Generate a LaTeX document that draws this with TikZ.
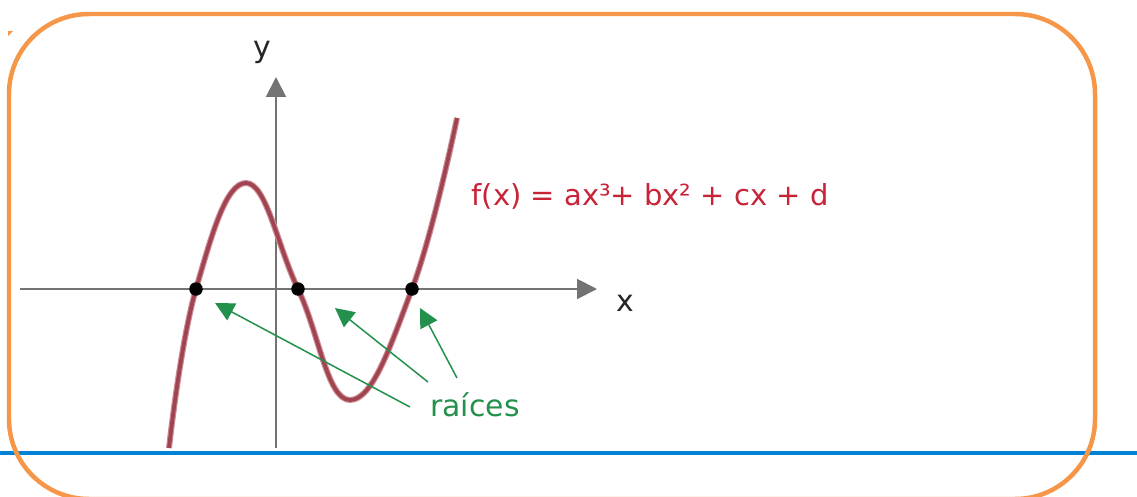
\documentclass[tikz,border=0pt]{standalone}
\usepackage{fontspec}
\setmainfont{DejaVu Sans}
\usepackage{tikz}
\usetikzlibrary{positioning,arrows.meta}
\definecolor{frameorange}{RGB}{246,150,72}
\definecolor{lineblue}{RGB}{0,130,214}
\definecolor{axisgray}{RGB}{115,115,115}
\definecolor{curvered}{RGB}{160,68,80}
\definecolor{curvehalo}{RGB}{205,140,150}
\definecolor{eqred}{RGB}{200,35,55}
\definecolor{rootgreen}{RGB}{35,145,75}

\begin{document}
\begin{tikzpicture}[
    x=0.02cm, y=-0.02cm,
    frame/.style={draw=frameorange, line width=0.09cm, rounded corners=1.6cm},
    axis/.style={draw=axisgray, line width=0.04cm, -{Triangle[length=4mm, width=4mm]}},
    curve/.style={draw=curvered, line width=0.075cm, line join=round,
      preaction={draw=curvehalo, line width=0.12cm}},
    root/.style={circle, fill=black, inner sep=0pt, minimum size=0.27cm},
    garr/.style={draw=rootgreen, line width=0.03cm, -{Triangle[length=3.8mm, width=3.8mm]}},
    lbl/.style={font=\fontsize{17}{20}\selectfont, text=black!85, inner sep=0pt}
]
\useasboundingbox (0,0) rectangle (1137,497);

\draw[lineblue, line width=0.08cm] (0,453) -- (1137,453);
\draw[frame] (9,14) rectangle (1095,499);
\fill[frameorange] (8,31) -- (13,31) -- (8,36) -- cycle;

\coordinate (xl) at (20,289);
\coordinate (xr) at (597,289);
\coordinate (yb) at (276,448);
\coordinate (yt) at (276,77);
\draw[axis] (xl) -- (xr);
\draw[axis] (yb) -- (yt);
\node[lbl] (ylab) at (262,52) {y};
\node[lbl] (xlab) at (625,303) {x};

\draw[curve] plot[smooth, tension=0.72] coordinates {
  (169,448) (196,289) (246,183) (298,289) (350,400) (412,289) (457,118)};

\node[root] (r1) at (196,289) {};
\node[root] (r2) at (298,289) {};
\node[root] (r3) at (412,289) {};

\node[font=\fontsize{16.5}{20}\selectfont, text=eqred, inner sep=0pt] (eq) at (650,196)
  {f(x) = ax³+ bx² + cx + d};

\node[font=\fontsize{17}{20}\selectfont, text=rootgreen, inner sep=0pt] (raices) at (475,405) {raíces};

\coordinate (t1) at (410,407);
\coordinate (t2) at (428,382);
\coordinate (t3) at (457,378);
\coordinate (h1) at (215,303);
\coordinate (h2) at (335,308);
\coordinate (h3) at (420,308);
\draw[garr] (t1) -- (h1);
\draw[garr] (t2) -- (h2);
\draw[garr] (t3) -- (h3);

\end{tikzpicture}
\end{document}
